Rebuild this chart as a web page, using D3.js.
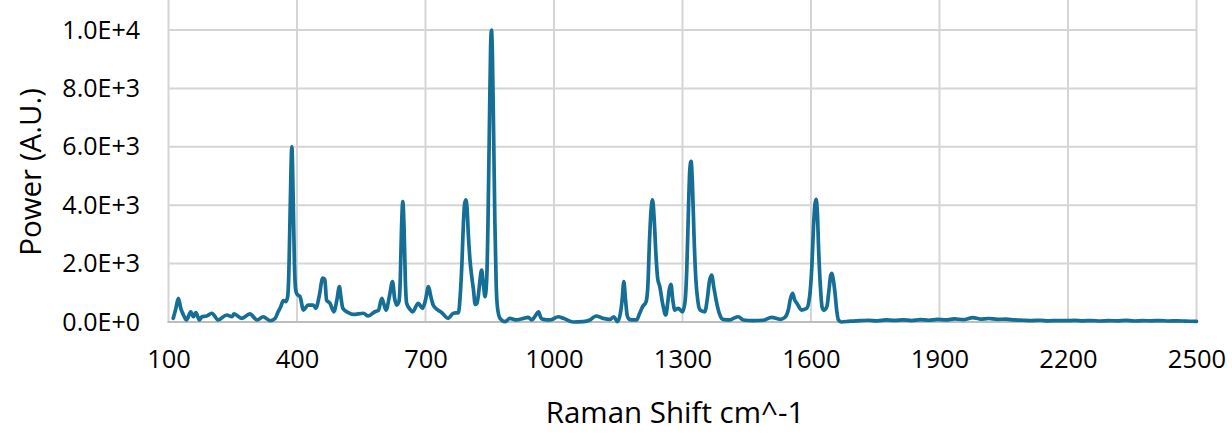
<!DOCTYPE html>
<html>
<head>
<meta charset="utf-8">
<script src="https://cdn.jsdelivr.net/npm/d3@7"></script>
<style>
  html, body { margin: 0; padding: 0; background: #ffffff; }
  svg { display: block; }
  text { font-family: "Open Sans", "DejaVu Sans", sans-serif; fill: #000; }
</style>
</head>
<body>
<svg id="chart" width="1232" height="435"></svg>
<script>
// Raman shift (cm^-1)
const ramanShift = [
  111,117,123,129,135,142,152,158,164,172,178,189,201,216,236,248,253,271,290,307,321,337,349,356,362,368,374,
  378,381,384,388,391,394,397,400,407,415,426,438,444,452,460,465,469,477,486,493,499,503,507,520,531,555,566,582,
  590,598,603,608,616,623,628,633,638,641,644,647,650,653,656,663,670,683,693,700,707,712,718,728,738,753,765,777,
  781,785,788,791,794,797,800,804,808,812,816,820,823,827,831,835,839,843,846,849,852,854,856,859,862,865,868,
  874,886,897,913,925,940,948,956,964,969,975,991,1010,1022,1045,1068,1084,1098,1115,1131,1140,1148,1155,1159,
  1163,1167,1171,1176,1185,1193,1200,1207,1215,1219,1223,1227,1230,1234,1238,1242,1247,1254,1261,1265,1269,1273,
  1277,1282,1290,1300,1306,1310,1314,1317,1320,1323,1327,1331,1336,1341,1352,1358,1363,1368,1373,1380,1387,1394,
  1411,1419,1430,1442,1465,1488,1508,1528,1539,1547,1552,1557,1562,1567,1578,1590,1597,1602,1606,1609,1612,1615,
  1618,1622,1626,1630,1637,1642,1646,1649,1652,1656,1660,1664,1671,1691,1714,1735,1755,1775,1795,1815,1835,1855,
  1875,1895,1915,1935,1955,1978,1995,2015,2035,2055,2075,2095,2115,2135,2155,2175,2195,2215,2235,2255,2275,2295,
  2315,2335,2355,2375,2395,2415,2435,2455,2475,2500
];
const power = [
  125,450,810,450,240,70,350,180,320,70,180,205,300,70,240,180,275,125,275,70,180,45,125,350,520,730,700,
  850,1700,3800,6000,4300,2000,1100,950,870,410,580,580,470,900,1500,1450,750,640,350,750,1210,800,470,320,260,300,205,350,
  400,810,600,410,900,1380,800,580,700,1400,3200,4120,3200,1400,640,450,350,640,470,750,1210,900,580,420,320,125,300,320,
  900,2000,3200,4000,4180,3900,3000,2100,1550,1100,600,640,870,1400,1780,1300,870,1500,3500,6500,9400,10000,9300,6500,3400,1300,500,
  125,10,125,70,110,160,70,200,350,150,90,70,180,125,0,10,70,205,125,90,180,10,300,750,
  1380,760,220,90,70,70,300,525,700,1200,2800,3900,4180,3500,2300,1500,1210,600,240,600,1100,1290,
  800,410,470,350,700,1800,3900,5200,5500,4800,2900,1500,700,410,350,800,1400,1610,1200,640,250,90,
  70,125,180,70,45,60,160,90,160,410,800,980,750,640,410,470,900,1900,3300,4000,4200,3700,
  2400,1200,500,410,525,1100,1600,1670,1450,1000,400,70,0,30,45,60,40,70,55,75,50,80,
  60,90,70,110,80,150,100,120,90,100,70,60,50,60,40,50,45,55,40,50,35,45,
  40,55,35,45,40,50,35,40,30,20
];
const xTicks = [100,400,700,1000,1300,1600,1900,2200,2500];
const yTicks = [0,2000,4000,6000,8000,10000];
const xTitle = "Raman Shift cm^-1";
const yTitle = "Power (A.U.)";

const data = ramanShift.map((s, i) => ({ x: s, y: power[i] }));

const svg = d3.select("#chart");
const x = d3.scaleLinear().domain([100, 2500]).range([168.5, 1196.5]);
const y = d3.scaleLinear().domain([0, 10000]).range([322, 30]);

const grid = svg.append("g");
grid.selectAll("line.v").data(xTicks).join("line")
  .attr("x1", d => x(d)).attr("x2", d => x(d))
  .attr("y1", 0).attr("y2", y(0))
  .attr("stroke", "#d5d5d5").attr("stroke-width", 2);
grid.selectAll("line.h").data(yTicks).join("line")
  .attr("x1", x(100)).attr("x2", x(2500))
  .attr("y1", d => y(d)).attr("y2", d => y(d))
  .attr("stroke", "#d5d5d5").attr("stroke-width", 2);
svg.append("line")
  .attr("x1", x(100) - 1).attr("x2", x(2500) + 1)
  .attr("y1", y(0)).attr("y2", y(0))
  .attr("stroke", "#bdbdbd").attr("stroke-width", 2);

const xAxis = svg.append("g").attr("transform", `translate(0,${y(0)})`)
  .call(d3.axisBottom(x).tickValues(xTicks).tickSize(0).tickPadding(28).tickFormat(d3.format("d")));
xAxis.select(".domain").remove();
xAxis.selectAll("text").attr("font-size", 25.5).attr("font-family", "Open Sans").attr("fill", "#000");

const yAxis = svg.append("g").attr("transform", `translate(${x(100)},0)`)
  .call(d3.axisLeft(y).tickValues(yTicks).tickSize(0).tickPadding(28.5)
    .tickFormat(d => d.toExponential(1).toUpperCase()));
yAxis.select(".domain").remove();
yAxis.selectAll("text").attr("font-size", 25).attr("font-family", "Open Sans").attr("fill", "#000");

const line = d3.line().x(d => x(d.x)).y(d => y(d.y)).curve(d3.curveMonotoneX);
svg.append("path").datum(data)
  .attr("d", line)
  .attr("fill", "none")
  .attr("stroke", "#156e95")
  .attr("stroke-width", 3.7)
  .attr("stroke-linejoin", "round")
  .attr("stroke-linecap", "round");

svg.append("text").attr("x", 675).attr("y", 423)
  .attr("text-anchor", "middle").attr("font-size", 29.5).text(xTitle);
svg.append("text").attr("transform", "translate(41,172) rotate(-90)")
  .attr("text-anchor", "middle").attr("font-size", 29.5).text(yTitle);
</script>
</body>
</html>
